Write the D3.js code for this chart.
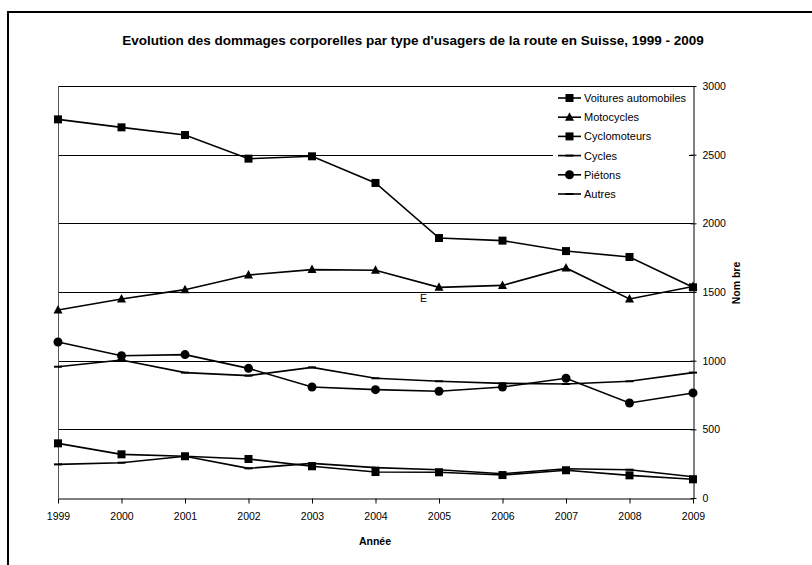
<!DOCTYPE html>
<html>
<head>
<meta charset="utf-8">
<script src="https://cdn.jsdelivr.net/npm/d3@7"></script>
<style>
  body { margin: 0; background: #fff; }
  svg { display: block; font-family: Arial, "Liberation Sans", sans-serif; }
  text { fill: #000; }
</style>
</head>
<body>
<svg id="chart" width="812" height="565"></svg>
<script>
// --- Données ---
const years = [1999, 2000, 2001, 2002, 2003, 2004, 2005, 2006, 2007, 2008, 2009];
const voitures = [2757, 2699, 2643, 2471, 2488, 2294, 1893, 1874, 1798, 1755, 1534];
const motocycles = [1369, 1449, 1517, 1624, 1663, 1658, 1534, 1548, 1675, 1449, 1540];
const cyclomoteurs = [398, 318, 304, 284, 231, 189, 187, 167, 202, 165, 136];
const cycles = [956, 1005, 913, 891, 951, 872, 850, 835, 830, 850, 913];
const pietons = [1136, 1036, 1044, 944, 808, 789, 777, 808, 872, 692, 765];
const autres = [245, 257, 304, 216, 252, 221, 206, 177, 213, 206, 155];
const yTicks = [0, 500, 1000, 1500, 2000, 2500, 3000];

const series = [
    {name: "Voitures automobiles", values: voitures, marker: "square"},
    {name: "Motocycles", values: motocycles, marker: "triangle"},
    {name: "Cyclomoteurs", values: cyclomoteurs, marker: "square"},
    {name: "Cycles", values: cycles, marker: "dash"},
    {name: "Piétons", values: pietons, marker: "circle"},
    {name: "Autres", values: autres, marker: "dash"}
];

const svg = d3.select("#chart");

// cadre extérieur (haut + gauche seulement)
svg.append("path")
    .attr("d", "M8,565 V12 H812")
    .attr("fill", "none")
    .attr("stroke", "#000")
    .attr("stroke-width", 2);

// titre
svg.append("text")
    .attr("x", 413).attr("y", 45)
    .attr("text-anchor", "middle")
    .attr("font-size", 13.5).attr("font-weight", "bold")
    .text("Evolution des dommages corporelles par type d'usagers de la route en Suisse, 1999 - 2009");

// --- Échelles ---
const x = d3.scaleLinear().domain([1999, 2009]).range([58, 693]);
const y = d3.scaleLinear().domain([0, 3000]).range([498, 86]);

// grille horizontale
svg.append("g")
    .selectAll("line")
    .data(yTicks.filter(d => d > 0))
    .join("line")
    .attr("x1", x(1999)).attr("x2", x(2009))
    .attr("y1", d => Math.round(y(d)) + 0.5).attr("y2", d => Math.round(y(d)) + 0.5)
    .attr("stroke", "#000").attr("stroke-width", 1);

// axe gauche (trait simple)
svg.append("line")
    .attr("x1", 58.5).attr("x2", 58.5)
    .attr("y1", y(3000)).attr("y2", y(0))
    .attr("stroke", "#555");

// axe des x
const xAxis = svg.append("g")
    .attr("transform", `translate(0,${Math.round(y(0)) + 0.5})`)
    .call(d3.axisBottom(x).tickValues(years).tickFormat(d3.format("d")).tickSize(5).tickSizeOuter(0).tickPadding(9));
xAxis.select(".domain").attr("stroke", "#000");
xAxis.selectAll("text").attr("font-size", 10.5).attr("fill", "#000").attr("font-family", null);

// axe des y à droite
const yAxis = svg.append("g")
    .attr("transform", `translate(${Math.round(x(2009)) + 0.5},0)`)
    .call(d3.axisRight(y).tickValues(yTicks).tickFormat(d3.format("d")).tickSize(3).tickSizeOuter(0).tickPadding(6));
yAxis.select(".domain").attr("stroke", "#000");
yAxis.selectAll(".tick line").attr("x1", -3);
yAxis.selectAll("text").attr("font-size", 10.5).attr("fill", "#000").attr("font-family", null);

// titres des axes
svg.append("text")
    .attr("x", 375).attr("y", 545)
    .attr("text-anchor", "middle")
    .attr("font-size", 10.5).attr("font-weight", "bold")
    .text("Année");

svg.append("text")
    .attr("transform", "translate(740,283) rotate(-90)")
    .attr("text-anchor", "middle")
    .attr("font-size", 10.5).attr("font-weight", "bold")
    .text("Nom bre");

// lettre isolée dans le graphique
svg.append("text")
    .attr("x", 420).attr("y", 302)
    .attr("font-size", 10.5)
    .text("E");

// --- Marqueurs ---
function drawMarker(sel, type) {
    if (type === "square") {
        sel.append("rect").attr("x", -4).attr("y", -4).attr("width", 8).attr("height", 8).attr("fill", "#000");
    } else if (type === "triangle") {
        sel.append("path").attr("d", "M0,-5L4.5,3.5L-4.5,3.5Z").attr("fill", "#000");
    } else if (type === "circle") {
        sel.append("circle").attr("r", 4.5).attr("fill", "#000");
    } else {
        sel.append("line").attr("x1", -4).attr("x2", 4).attr("stroke", "#000").attr("stroke-width", 2);
    }
}

const line = d3.line()
    .x((d, i) => x(years[i]))
    .y(d => y(d));

const plot = svg.append("g");
series.forEach(s => {
    plot.append("path")
        .datum(s.values)
        .attr("d", line)
        .attr("fill", "none")
        .attr("stroke", "#000")
        .attr("stroke-width", 1.6);
    plot.append("g")
        .selectAll("g")
        .data(s.values)
        .join("g")
        .attr("transform", (d, i) => `translate(${x(years[i])},${y(d)})`)
        .each(function () { drawMarker(d3.select(this), s.marker); });
});

// --- Légende ---
const legend = svg.append("g").attr("transform", "translate(553,88)");
legend.append("rect")
    .attr("x", 0).attr("y", 0).attr("width", 136).attr("height", 115)
    .attr("fill", "#fff");
const item = legend.selectAll("g.item")
    .data(series)
    .join("g")
    .attr("class", "item")
    .attr("transform", (d, i) => `translate(0,${10 + i * 19.2})`);
item.append("line")
    .attr("x1", 5).attr("x2", 28)
    .attr("stroke", "#000").attr("stroke-width", 1.6);
item.append("g")
    .attr("transform", "translate(16.5,0)")
    .each(function (d) { drawMarker(d3.select(this), d.marker); });
item.append("text")
    .attr("x", 31).attr("y", 4)
    .attr("font-size", 11)
    .text(d => d.name);
</script>
</body>
</html>
